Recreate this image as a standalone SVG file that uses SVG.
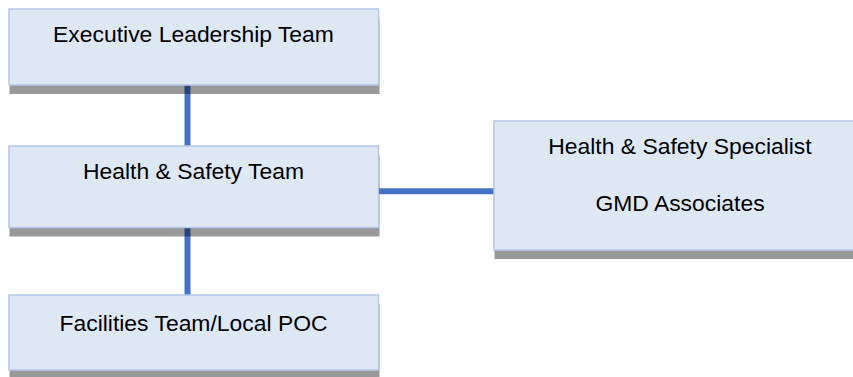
<svg xmlns="http://www.w3.org/2000/svg" width="853" height="377" viewBox="0 0 853 377">
<style>
.shadow{fill:#000;fill-opacity:0.4}
.box{fill:#DEE8F5;stroke:#B4C7E7;stroke-width:1.5}
.conn{stroke:#4472C4;stroke-width:6;fill:none}
text{font-family:"Liberation Sans",Arial,sans-serif;font-size:22.9px;fill:#000;text-anchor:middle}
</style>
<rect width="853" height="377" fill="#fff"/>
<g id="connectors">
<line class="conn" x1="187.5" y1="85" x2="187.5" y2="146"/>
<line class="conn" x1="187.5" y1="227" x2="187.5" y2="295"/>
<line class="conn" x1="379" y1="191.3" x2="494" y2="191.3"/>
</g>
<g id="exec">
<rect class="shadow" x="9.5" y="18" width="370" height="76"/>
<rect class="box" x="9" y="9" width="369.5" height="76"/>
<text x="193.5" y="42">Executive Leadership Team</text>
</g>
<g id="hs-team">
<rect class="shadow" x="9.5" y="155" width="370" height="81.5"/>
<rect class="box" x="9" y="146" width="369.5" height="81.5"/>
<text x="193.5" y="179">Health &amp; Safety Team</text>
</g>
<g id="specialist">
<rect class="shadow" x="494.5" y="130" width="370" height="129"/>
<rect class="box" x="494" y="121" width="370" height="129"/>
<text x="680" y="154">Health &amp; Safety Specialist</text>
<text x="680" y="211">GMD Associates</text>
</g>
<g id="facilities">
<rect class="shadow" x="9.5" y="304" width="370" height="75"/>
<rect class="box" x="9" y="295" width="369.5" height="75"/>
<text x="193.5" y="331">Facilities Team/Local POC</text>
</g>
</svg>
